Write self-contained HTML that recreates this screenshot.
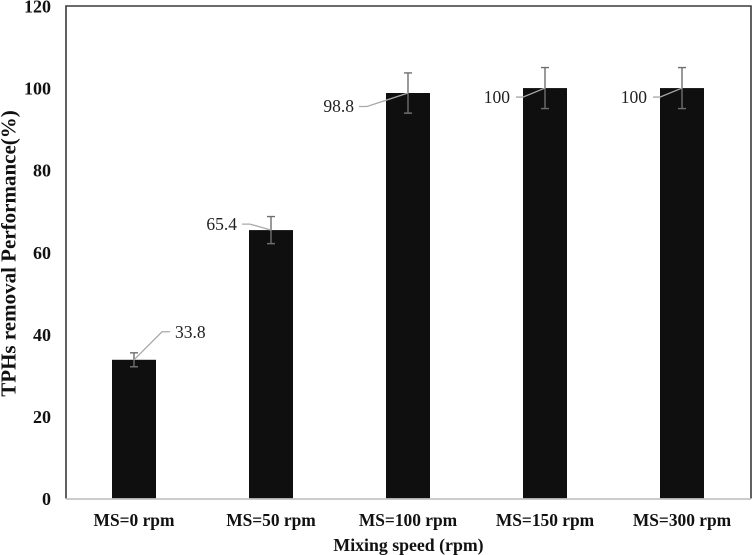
<!DOCTYPE html>
<html lang="en">
<head>
<meta charset="utf-8">
<title>TPHs removal performance chart</title>
<style>
html,body{margin:0;padding:0;background:#fff;}
svg{display:block;font-family:"Liberation Serif",serif;}
</style>
</head>
<body>
<svg id="chart" width="752" height="555" viewBox="0 0 752 555" xmlns="http://www.w3.org/2000/svg">
<rect width="752" height="555" fill="#fff"/>
<g id="marks"></g>
<text transform="translate(15.5,253.5) rotate(-90)" text-anchor="middle" font-size="21" font-weight="bold" fill="#111">TPHs removal Performance(%)</text>
<text x="408.5" y="551" text-anchor="middle" font-size="17.8" font-weight="bold" fill="#111">Mixing speed (rpm)</text>
</svg>
<script>
const categories = ["MS=0 rpm", "MS=50 rpm", "MS=100 rpm", "MS=150 rpm", "MS=300 rpm"];
const values = [33.8, 65.4, 98.8, 100, 100];
const errors = [1.7, 3.3, 4.9, 5, 5];
const valueLabels = ["33.8", "65.4", "98.8", "100", "100"];
const yTicks = [0, 20, 40, 60, 80, 100, 120];

const NS = "http://www.w3.org/2000/svg";
const plot = {left: 66, right: 751, top: 6, bottom: 498.5};
const yMax = 120;
const barWidth = 44;
const marks = document.getElementById("marks");

function yScale(v) {
  return plot.bottom - (v / yMax) * (plot.bottom - plot.top);
}
function xScale(i) {
  return 134 + i * 137;
}
function make(tag, attrs, parent) {
  const el = document.createElementNS(NS, tag);
  for (const k in attrs) el.setAttribute(k, attrs[k]);
  (parent || marks).appendChild(el);
  return el;
}
/* Leader callout geometry relative to the top of each bar */
function leaderFor(i, x, y) {
  if (i === 0) return {pts: [[x, y], [x + 28, y - 28], [x + 36, y - 28]], tx: x + 41, ty: y - 22, anchor: "start"};
  if (i === 1) return {pts: [[x, y], [x - 21, y - 6], [x - 29, y - 6]], tx: x - 34, ty: y, anchor: "end"};
  if (i === 2) return {pts: [[x, y], [x - 41, y + 13.5], [x - 49, y + 13.5]], tx: x - 54, ty: y + 19, anchor: "end"};
  return {pts: [[x, y], [x - 22, y + 9], [x - 29, y + 9]], tx: x - 35, ty: y + 15, anchor: "end"};
}

yTicks.forEach(function (t) {
  const el = make("text", {x: 51, y: yScale(t) + 6.5, "text-anchor": "end", "font-size": 18, "font-weight": "bold", fill: "#111"});
  
  
  el.textContent = t;
});

categories.forEach(function (c, i) {
  const x = xScale(i);
  const y = yScale(values[i]);

  const bar = make("rect", {x: x - barWidth / 2, y: y, width: barWidth, height: plot.bottom - y, fill: "#0f0f0f"});
  
  

  const yHi = yScale(values[i] + errors[i]);
  const yLo = yScale(values[i] - errors[i]);
  const err = make("path", {d: "M" + x + " " + yHi + "V" + yLo + "M" + (x - 4) + " " + yHi + "H" + (x + 4) + "M" + (x - 4) + " " + yLo + "H" + (x + 4), stroke: "#6e6e6e", "stroke-width": 1.4, fill: "none"});
  
  

  const leader = leaderFor(i, x, y);
  const line = make("polyline", {points: leader.pts.map(function (p) { return p.join(","); }).join(" "), stroke: "#a9a9a9", "stroke-width": 1.3, fill: "none"});
  
  

  const lbl = make("text", {x: leader.tx, y: leader.ty, "text-anchor": leader.anchor, "font-size": 17.5, fill: "#222"});
  
  
  lbl.textContent = valueLabels[i];

  const cat = make("text", {x: x, y: 526, "text-anchor": "middle", "font-size": 17.4, "font-weight": "bold", fill: "#111"});
  
  
  cat.textContent = c;
});

const frame = make("path", {d: "M" + plot.left + " " + plot.bottom + "V" + plot.top + "H" + plot.right + "V" + plot.bottom, stroke: "#3a3a3a", "stroke-width": 1.6, fill: "none"});



const xAxis = make("line", {x1: plot.left, x2: plot.right, y1: plot.bottom + 0.5, y2: plot.bottom + 0.5, stroke: "#c4c4c4", "stroke-width": 1.8});


</script>
</body>
</html>
